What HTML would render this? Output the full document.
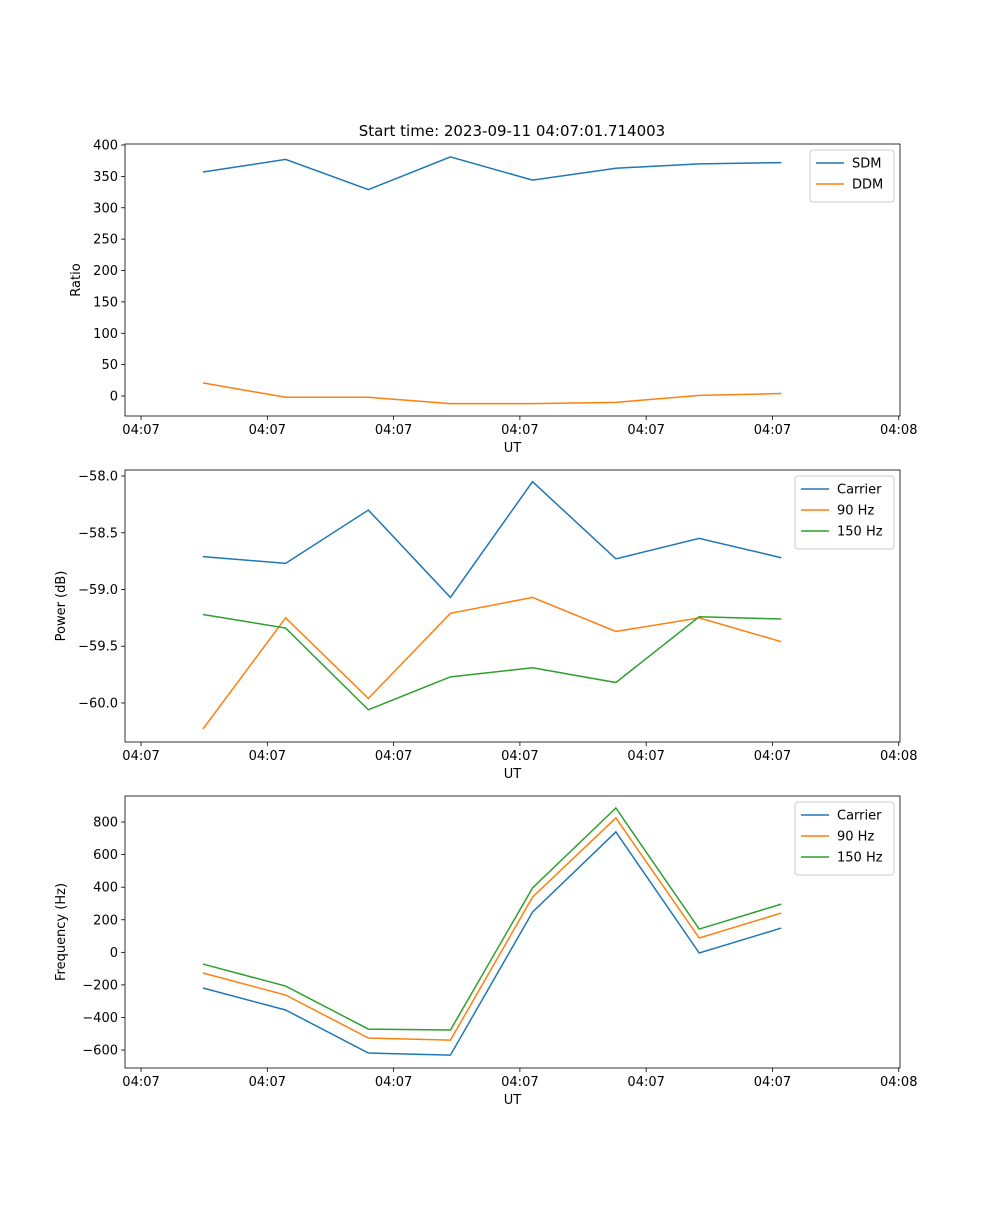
<!DOCTYPE html>
<html><head><meta charset="utf-8"><style>
body{margin:0;background:#fff;font-family:"Liberation Sans","DejaVu Sans",sans-serif}
svg text{font-family:"DejaVu Sans","Liberation Sans",sans-serif;font-size:13px;fill:#000}
</style></head><body>
<svg id="fig" width="1000" height="1200" xmlns="http://www.w3.org/2000/svg">
<rect width="1000" height="1200" fill="#fff"/>
<text x="512" y="136" text-anchor="middle" style="font-size:15px">Start time: 2023-09-11 04:07:01.714003</text>
</svg>
<script>
const times=[4.9,11.45,18.0,24.5,31.0,37.6,44.2,50.7];
const xTickVals=[0,10,20,30,40,50,60];
const xTickLabels=["04:07","04:07","04:07","04:07","04:07","04:07","04:08"];
const sdm=[357,377,329,381,344,363,370,372];
const ddm=[21,-2,-2,-12,-12,-10,1,4];
const pCarrier=[-58.71,-58.77,-58.30,-59.07,-58.05,-58.73,-58.55,-58.72];
const p90=[-60.23,-59.25,-59.96,-59.21,-59.07,-59.37,-59.25,-59.46];
const p150=[-59.22,-59.34,-60.06,-59.77,-59.69,-59.82,-59.24,-59.26];
const fCarrier=[-219,-354,-618,-631,247,739,-4,149];
const f90=[-127,-262,-526,-539,339,825,88,241];
const f150=[-72,-207,-471,-477,395,886,143,296];
const ticks1=[0,50,100,150,200,250,300,350,400];
const ticks2=[-60.0,-59.5,-59.0,-58.5,-58.0];
const ticks3=[-600,-400,-200,0,200,400,600,800];
const C=["#1f77b4","#ff7f0e","#2ca02c"];
const NS="http://www.w3.org/2000/svg";
const svg=document.getElementById('fig');
function mk(t,a,p){const e=document.createElementNS(NS,t);for(const k in a)e.setAttribute(k,a[k]);(p||svg).appendChild(e);return e;}
function panel(name,top,ymin,ymax,yt,yfmt,ylabel,series,legend,legW){
  const L=125,R=900,T=top,B=top+272;
  const g=mk('g',{});
  
  
  const xs=v=>L+(v-(-1.27))/(60.1-(-1.27))*(R-L);
  const ys=v=>B-(v-ymin)/(ymax-ymin)*(B-T);
  xTickVals.forEach((v,i)=>{const x=xs(v);
    mk('line',{x1:x,x2:x,y1:B,y2:B+4,stroke:'#000','stroke-width':0.8},g);
    const t=mk('text',{x:x,y:B+18,'text-anchor':'middle'},g);t.textContent=xTickLabels[i];
    
    });
  yt.forEach(v=>{const y=ys(v);
    mk('line',{x1:L-4,x2:L,y1:y,y2:y,stroke:'#000','stroke-width':0.8},g);
    const t=mk('text',{x:L-7,y:y+4.5,'text-anchor':'end'},g);t.textContent=yfmt(v);
    
    });
  const xl=mk('text',{x:(L+R)/2,y:B+36,'text-anchor':'middle'},g);xl.textContent='UT';
  
  
  const yl=mk('text',{x:0,y:0,'text-anchor':'middle',transform:`translate(${name==='ratio-panel'?80:65},${(T+B)/2}) rotate(-90)`},g);yl.textContent=ylabel;
  
  
  series.forEach((s,i)=>{
    const pl=mk('polyline',{points:s.map((v,j)=>xs(times[j])+','+ys(v)).join(' '),fill:'none',stroke:C[i],'stroke-width':1.5},g);
    
    });
  mk('rect',{x:L,y:T,width:R-L,height:B-T,fill:'none',stroke:'#000','stroke-width':0.8},g);
  const lx=R-6-legW, ly=T+6, lh=10+legend.length*21;
  const lg=mk('g',{},g);
  
  
  mk('rect',{x:lx,y:ly,width:legW,height:lh,rx:3,fill:'#fff','fill-opacity':0.8,stroke:'#ccc'},lg);
  legend.forEach((n,i)=>{const yy=ly+13+i*21;
    mk('line',{x1:lx+6,x2:lx+34,y1:yy,y2:yy,stroke:C[i],'stroke-width':1.5},lg);
    const t=mk('text',{x:lx+42,y:yy+4.5},lg);t.textContent=n;
    
    });
}
panel('ratio-panel',144,-31.8,401.6,ticks1,v=>String(v),'Ratio',[sdm,ddm],['SDM','DDM'],84);
panel('power-panel',470,-60.344,-57.947,ticks2,v=>(v<0?'\u2212':'')+Math.abs(v).toFixed(1),'Power (dB)',[pCarrier,p90,p150],['Carrier','90 Hz','150 Hz'],99);
panel('frequency-panel',796,-710,959.7,ticks3,v=>(v<0?'\u2212':'')+Math.abs(v),'Frequency (Hz)',[fCarrier,f90,f150],['Carrier','90 Hz','150 Hz'],99);
</script>
</body></html>
